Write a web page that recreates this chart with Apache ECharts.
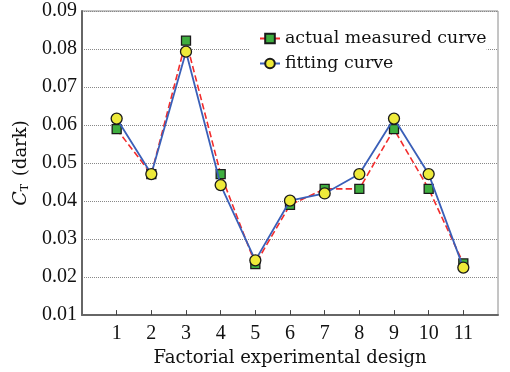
<!DOCTYPE html>
<html>
<head>
<meta charset="utf-8">
<script src="https://cdn.jsdelivr.net/npm/echarts@6/dist/echarts.min.js"></script>
<style>
  html, body { margin: 0; padding: 0; background: #fff; }
  #chart { width: 510px; height: 372px; }
</style>
</head>
<body>
<div id="chart"></div>
<script>
// 实验编号
const designs = [1, 2, 3, 4, 5, 6, 7, 8, 9, 10, 11];
// 实测值 / 拟合值
const measured = [0.0589, 0.0471, 0.0822, 0.0471, 0.0234, 0.0390, 0.0432, 0.0432, 0.0589, 0.0432, 0.0236];
const fitted = [0.0617, 0.0471, 0.0793, 0.0442, 0.0244, 0.0401, 0.0420, 0.0471, 0.0617, 0.0471, 0.0225];

const serif = 'DejaVu Serif';
const numFont = 'Liberation Serif';

const chart = echarts.init(document.getElementById('chart'), null, { renderer: 'canvas' });

const option = {
  animation: false,
  backgroundColor: '#fff',
  grid: {
    left: 82,
    right: 12,
    top: 11,
    bottom: 55,
    show: true,
    borderColor: '#8a8a8a',
    borderWidth: 1
  },
  legend: {
    orient: 'vertical',
    left: 250,
    top: 22,
    padding: [6, 0, 6, 9],
    backgroundColor: '#fff',
    itemWidth: 20,
    itemHeight: 12,
    itemGap: 4,
    textStyle: {
      fontFamily: serif,
      fontSize: 17.4,
      color: '#111',
      lineHeight: 21
    },
    data: ['actual measured curve', 'fitting curve']
  },
  xAxis: {
    type: 'value',
    min: 0,
    max: 12,
    interval: 1,
    name: 'Factorial experimental design',
    nameLocation: 'middle',
    nameGap: 32,
    nameTextStyle: { fontFamily: serif, fontSize: 18, color: '#111' },
    axisLine: { show: true, lineStyle: { color: '#666', width: 2 } },
    axisTick: {
      show: true,
      inside: true,
      length: 5,
      customValues: designs,
      lineStyle: { color: '#444', width: 1 }
    },
    axisLabel: {
      customValues: designs,
      margin: 9,
      fontFamily: numFont,
      fontSize: 20,
      color: '#111'
    },
    splitLine: { show: false }
  },
  yAxis: {
    type: 'value',
    min: 0.01,
    max: 0.09,
    interval: 0.01,
    name: '{c|C}{s|T} (dark)',
    nameLocation: 'middle',
    nameRotate: 90,
    nameGap: 51,
    nameTextStyle: {
      fontFamily: serif,
      fontSize: 18,
      color: '#111',
      rich: {
        c: { fontFamily: serif, fontSize: 19, fontStyle: 'italic', color: '#111' },
        s: { fontFamily: serif, fontSize: 11, color: '#111', verticalAlign: 'bottom', padding: [8, 2, 0, 0] }
      }
    },
    axisLine: { show: true, lineStyle: { color: '#666', width: 2 } },
    axisTick: { show: false },
    axisLabel: {
      margin: 5,
      fontFamily: numFont,
      fontSize: 20,
      color: '#111',
      formatter: (v) => v.toFixed(2)
    },
    splitLine: {
      show: true,
      lineStyle: { color: '#888', type: 'dotted', width: 1 }
    }
  },
  series: [
    {
      name: 'actual measured curve',
      type: 'line',
      data: designs.map((d, i) => [d, measured[i]]),
      symbol: 'rect',
      symbolSize: 9,
      lineStyle: { color: '#f22c2c', type: 'dashed', width: 1.6 },
      itemStyle: { color: '#3fae3f', borderColor: '#1a1a1a', borderWidth: 1.3 },
      z: 2
    },
    {
      name: 'fitting curve',
      type: 'line',
      data: designs.map((d, i) => [d, fitted[i]]),
      symbol: 'circle',
      symbolSize: 11,
      lineStyle: { color: '#3a5fb8', width: 1.8 },
      itemStyle: { color: '#eeea3a', borderColor: '#1a1a1a', borderWidth: 1.3 },
      z: 3
    }
  ]
};

chart.setOption(option);
</script>
</body>
</html>
